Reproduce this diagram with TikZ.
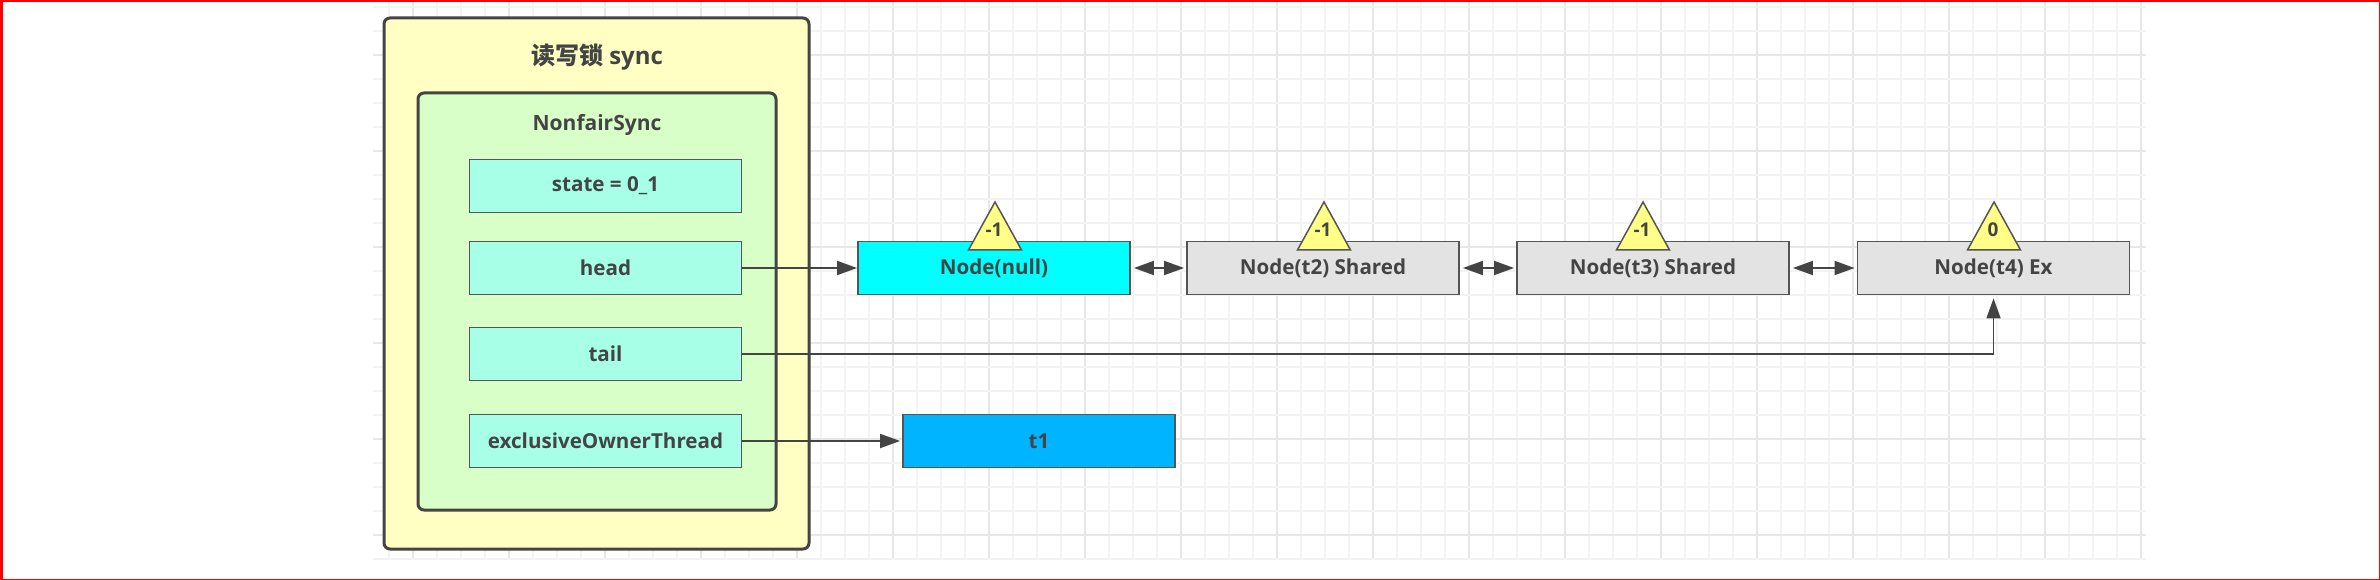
\documentclass[tikz,border=0pt]{standalone}
\usepackage{fontspec}
\setmainfont{Open Sans}
\newfontfamily\cjk{Noto Sans CJK SC}
\usetikzlibrary{arrows.meta,shapes.geometric}
\definecolor{ink}{HTML}{444444}
\definecolor{edge}{HTML}{555555}
\definecolor{lineink}{HTML}{444444}
\tikzset{
  x=1pt,y=-1pt,
  lbl/.style={font=\fontsize{21}{25}\selectfont\bfseries,text=ink,inner sep=0pt},
  outerbox/.style={draw=ink,line width=3pt,rounded corners=6pt,fill=#1},
  rowbox/.style={draw=edge,line width=1.8pt,minimum width=272pt,minimum height=53pt,inner sep=0pt,text=ink,font=\fontsize{20.6}{25}\selectfont\bfseries,fill=#1},
  tri/.style={isosceles triangle,isosceles triangle stretches,shape border rotate=90,minimum width=53pt,minimum height=48pt,inner sep=0pt,draw=edge,line width=1.5pt,fill=triy,anchor=apex},
  trilbl/.style={font=\fontsize{19}{24}\selectfont\bfseries,text=ink,inner sep=0pt},
  conn/.style={draw=lineink,line width=1.8pt,-{Triangle[length=20pt,width=14pt]}},
  dconn/.style={draw=lineink,line width=1.8pt,{Triangle[length=20pt,width=14pt]}-{Triangle[length=20pt,width=14pt]},shorten <=3pt,shorten >=2pt},
}
\definecolor{triy}{HTML}{FFFF88}
\definecolor{fld}{HTML}{A6FFE6}
\definecolor{outerc}{HTML}{FFFFC4}
\definecolor{innerc}{HTML}{D9FFC9}
\definecolor{grayn}{HTML}{E3E3E3}
\definecolor{cyann}{HTML}{00FFFF}
\definecolor{t1c}{HTML}{00B4FF}
\definecolor{gmin}{HTML}{F3F3F3}
\definecolor{gmaj}{HTML}{E7E7E7}
\begin{document}
\begin{tikzpicture}
\useasboundingbox (0,0) rectangle (2380,580);
% grid
\foreach \i in {0,...,73}{
  \pgfmathsetmacro{\xx}{2141-24*\i}
  \pgfmathtruncatemacro{\mm}{mod(\i+1,4)}
  \ifnum\mm=1 \draw[gmaj,line width=1.6pt] (\xx,2)--(\xx,560);
  \else \draw[gmin,line width=1.4pt] (\xx,2)--(\xx,560);\fi
}
\foreach \i in {0,...,23}{
  \pgfmathsetmacro{\yy}{559-24*\i}
  \pgfmathtruncatemacro{\mm}{mod(\i,4)}
  \ifnum\mm=1 \draw[gmaj,line width=1.6pt] (373,\yy)--(2146,\yy);
  \else \draw[gmin,line width=1.4pt] (373,\yy)--(2146,\yy);\fi
}
% containers
\draw[outerbox=outerc] (384,18) rectangle (809,549);
\draw[outerbox=innerc] (418,93) rectangle (776,510);
\node[lbl,font=\fontsize{24}{28}\selectfont\bfseries] (title) at (597,57) {{\cjk\bfseries 读写锁} sync};
\node[lbl] (ns) at (597,125) {NonfairSync};
% fields
\node[rowbox=fld] (state) at (605.5,186) {state = 0\_1};
\node[rowbox=fld] (head) at (605.5,268) {head};
\node[rowbox=fld] (tail) at (605.5,354) {tail};
\node[rowbox=fld] (owner) at (605.5,441) {exclusiveOwnerThread};
% queue
\node[rowbox=cyann] (nnull) at (994,268) {Node(null)};
\node[rowbox=grayn] (t2) at (1323,268) {Node(t2) Shared};
\node[rowbox=grayn] (t3) at (1653,268) {Node(t3) Shared};
\node[rowbox=grayn] (t4) at (1993.5,268) {Node(t4) Ex};
\node[rowbox=t1c] (t1) at (1039,441) {t1};
% triangles
\node[tri] (a1) at (995,200) {};
\node[tri] (a2) at (1324,200) {};
\node[tri] (a3) at (1643,200) {};
\node[tri] (a4) at (1994,200) {};
\node[trilbl] (l1) at (994,230) {-1};
\node[trilbl] (l2) at (1323,230) {-1};
\node[trilbl] (l3) at (1642,230) {-1};
\node[trilbl] (l4) at (1993,230) {0};
% connectors
\draw[conn] (head.east) -- (nnull.west);
\draw[conn,shorten >=2pt] (owner.east) -- (t1.west);
\draw[conn,shorten >=3pt] (tail.east) -| (t4.south);
\draw[dconn] (nnull.east) -- (t2.west);
\draw[dconn] (t2.east) -- (t3.west);
\draw[dconn] (t3.east) -- (t4.west);
% border
\draw[red,line width=0pt,fill=red] (0,0) rectangle (2380,2);
\draw[red,line width=0pt,fill=red] (0,0) rectangle (2,580);
\draw[red,line width=0pt,fill=red] (0,579) rectangle (2380,580);
\draw[red,line width=0pt,fill=red] (2379,0) rectangle (2380,580);
\end{tikzpicture}
\end{document}
